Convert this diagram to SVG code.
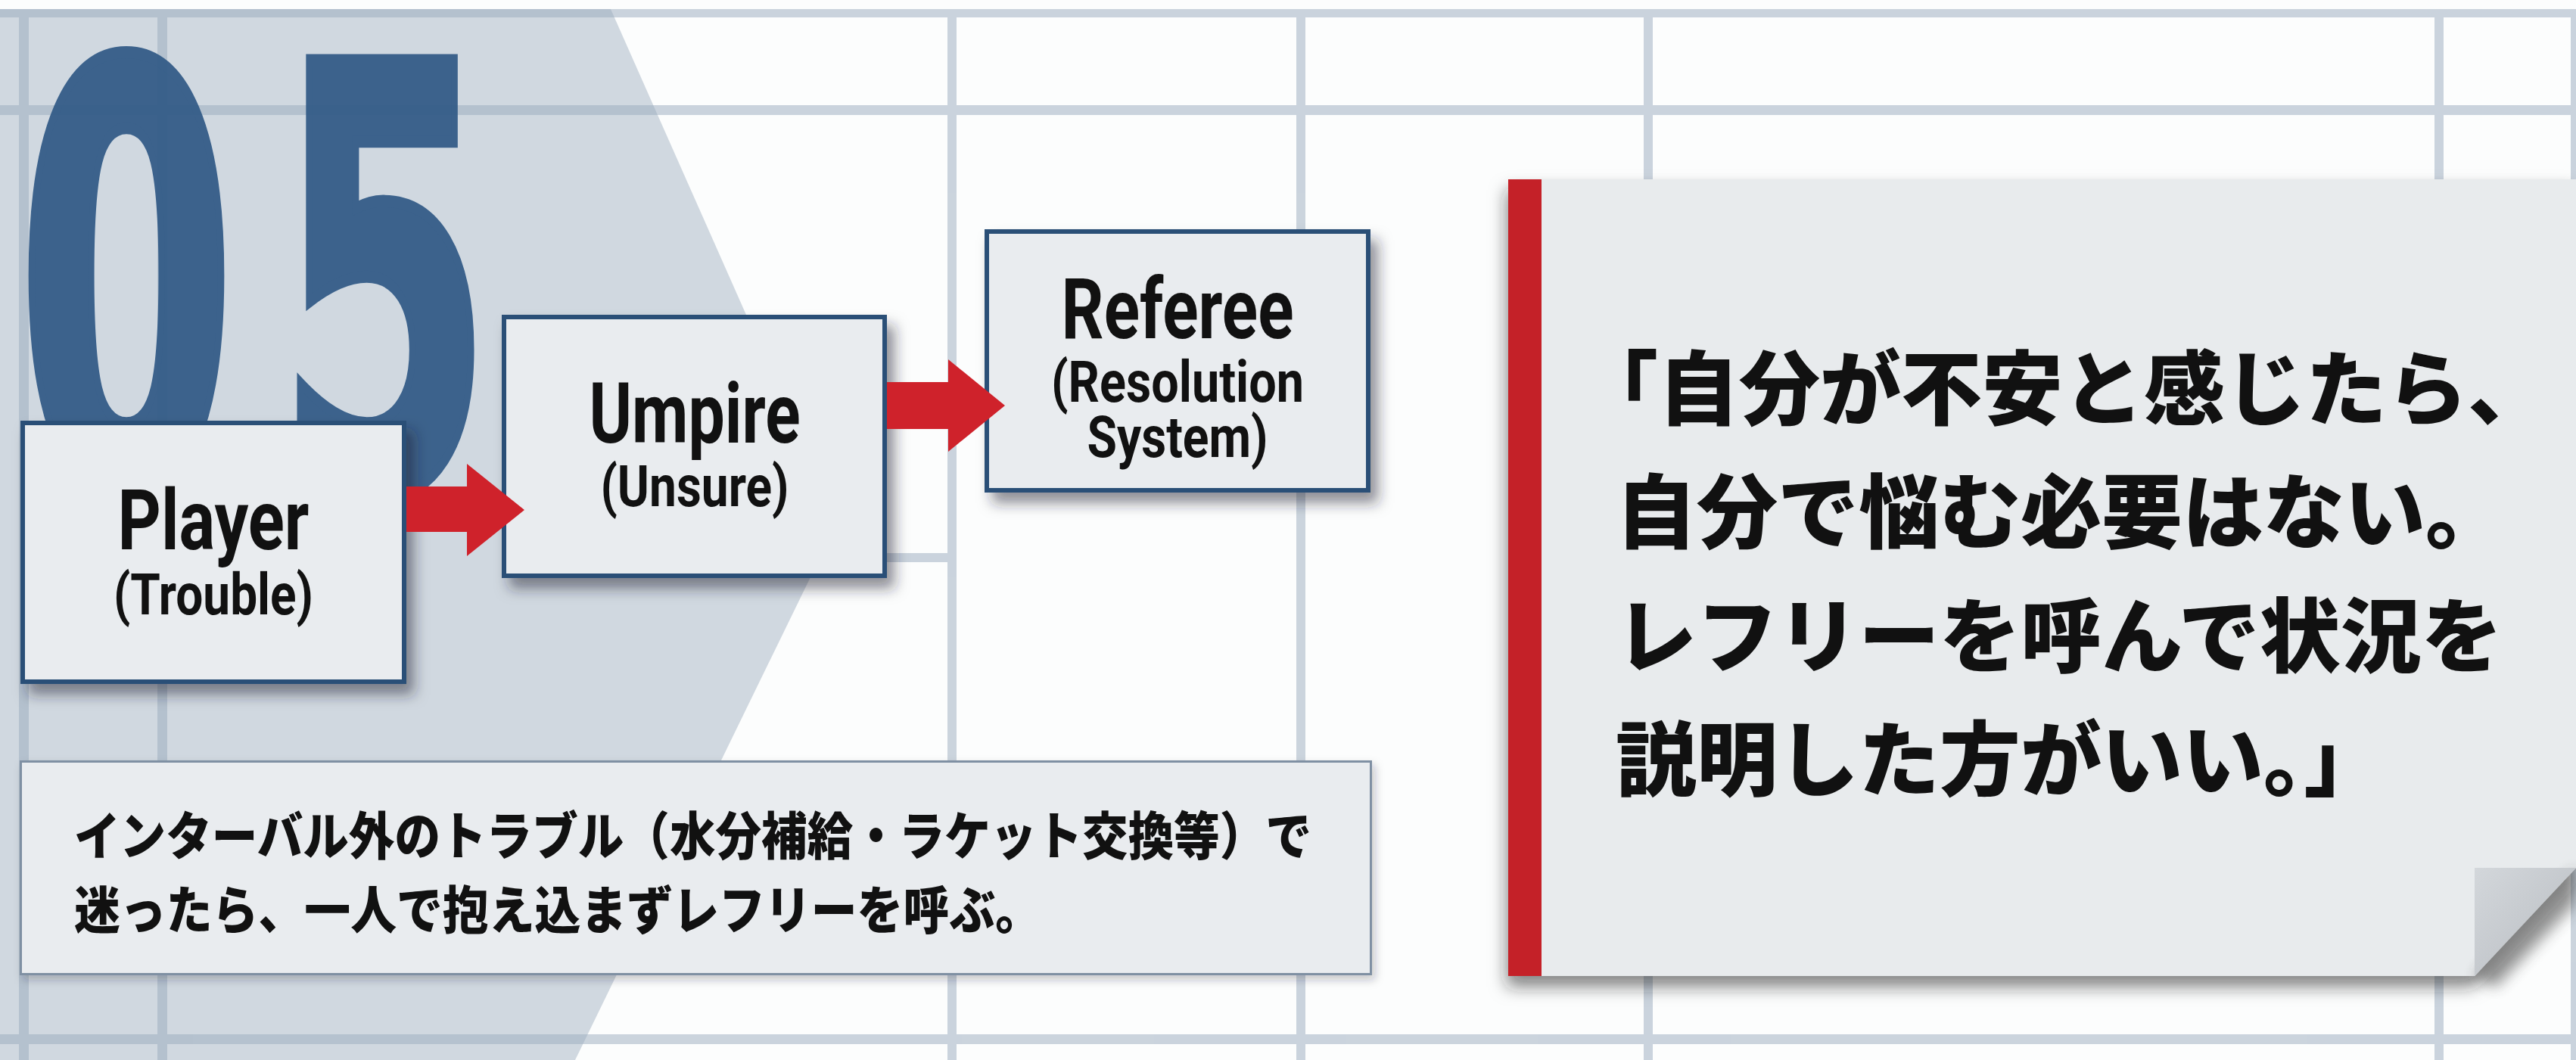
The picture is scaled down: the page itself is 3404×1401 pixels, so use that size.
<svg xmlns="http://www.w3.org/2000/svg" width="3404" height="1401" viewBox="0 0 3404 1401">
<defs>
<style>
.box{fill:#e9ecef;stroke:#2c4f77;stroke-width:6}
.lbl{font-family:Roboto,"Liberation Sans",sans-serif;font-weight:700;fill:#111;text-anchor:middle}
.main{font-size:112px}
.sub{font-size:76px}
.jp{font-family:"Noto Sans CJK JP","Noto Sans CJK SC",sans-serif;font-weight:900;fill:#111}
.arrow{fill:#cf222b}
.num{font-family:"DejaVu Sans",sans-serif;font-weight:700;font-size:780px;fill:#365e89;stroke:#365e89;stroke-width:16}
</style>
<filter id="shBox" x="-20%" y="-20%" width="150%" height="150%">
<feDropShadow dx="10" dy="14" stdDeviation="9" flood-color="#1a2430" flood-opacity="0.5"/>
</filter>
<filter id="shNote" x="-10%" y="-20%" width="120%" height="150%">
<feDropShadow dx="4" dy="6" stdDeviation="6" flood-color="#1a2430" flood-opacity="0.25"/>
</filter>
<filter id="shCard" x="-10%" y="-10%" width="120%" height="130%">
<feDropShadow dx="-2" dy="14" stdDeviation="11" flood-color="#222" flood-opacity="0.55"/>
</filter>
<filter id="blur8" x="-50%" y="-50%" width="200%" height="200%"><feGaussianBlur stdDeviation="9"/></filter>
<linearGradient id="foldG" x1="0" y1="0" x2="1" y2="1">
<stop offset="0" stop-color="#d3d7db"/>
<stop offset="1" stop-color="#b8bcc1"/>
</linearGradient>
</defs>

<g id="background">
<rect width="3404" height="1401" fill="#fcfdfd"/>
<polygon points="0,12 807,12 1107,689 760,1401 0,1401" fill="#d0d8e0"/>
<g id="grid" opacity="0.5" fill="#9aabbe">
<rect x="0" y="12" width="3404" height="11"/>
<rect x="0" y="139" width="3404" height="13"/>
<rect x="1100" y="731" width="158" height="12"/>
<rect x="0" y="1367" width="3404" height="13"/>
<rect x="25" y="12" width="13" height="1389"/>
<rect x="208" y="12" width="13" height="1389"/>
<rect x="1252" y="12" width="12" height="1389"/>
<rect x="1713" y="12" width="12" height="1389"/>
<rect x="2172" y="12" width="12" height="1389"/>
<rect x="3217" y="12" width="12" height="1389"/>
<rect x="3397" y="12" width="7" height="1389"/>
</g>
<g id="number" opacity="0.96">
<text class="num" x="22" y="648" textLength="290" lengthAdjust="spacingAndGlyphs">0</text>
<text class="num" x="365" y="648" textLength="286" lengthAdjust="spacingAndGlyphs">5</text>
</g>
</g>

<g id="node-player">
<rect class="box" x="30" y="559" width="504" height="342" filter="url(#shBox)"/>
<text class="lbl main" x="282" y="726" textLength="253" lengthAdjust="spacingAndGlyphs">Player</text>
<text class="lbl sub" x="282" y="812" textLength="264" lengthAdjust="spacingAndGlyphs">(Trouble)</text>
</g>

<g id="node-umpire">
<rect class="box" x="666" y="419" width="503" height="342" filter="url(#shBox)"/>
<text class="lbl main" x="918" y="585" textLength="279" lengthAdjust="spacingAndGlyphs">Umpire</text>
<text class="lbl sub" x="918" y="669" textLength="249" lengthAdjust="spacingAndGlyphs">(Unsure)</text>
</g>

<g id="node-referee">
<rect class="box" x="1304" y="306" width="504" height="342" filter="url(#shBox)"/>
<text class="lbl main" x="1556" y="447" textLength="307" lengthAdjust="spacingAndGlyphs">Referee</text>
<text class="lbl sub" x="1556" y="531" textLength="334" lengthAdjust="spacingAndGlyphs">(Resolution</text>
<text class="lbl sub" x="1556" y="604" textLength="239" lengthAdjust="spacingAndGlyphs">System)</text>
</g>

<g id="connectors">
<polygon class="arrow" points="537,643 617,643 617,613 693,674 617,735 617,703 537,703"/>
<polygon class="arrow" points="1172,505 1253,505 1253,475 1328,536 1253,597 1253,567 1172,567"/>
</g>

<g id="node-note">
<rect x="27.5" y="1006.5" width="1784" height="281" fill="#e9ecef" stroke="#7f90a3" stroke-width="3" filter="url(#shNote)"/>
<text class="jp" x="98" y="1130" font-size="68" textLength="1635" lengthAdjust="spacingAndGlyphs">インターバル外のトラブル（水分補給・ラケット交換等）で</text>
<text class="jp" x="98" y="1228" font-size="68" textLength="1278" lengthAdjust="spacingAndGlyphs">迷ったら、一人で抱え込まずレフリーを呼ぶ。</text>
</g>

<g id="node-quote">
<polygon points="1993,237 3404,237 3404,1147 3270,1290 1993,1290" fill="#e8ebed" filter="url(#shCard)"/>
<rect x="1993" y="237" width="44" height="1053" fill="#c42128"/>
<polygon points="3270,1290 3404,1147 3404,1195 3298,1306" fill="#333" opacity="0.45" filter="url(#blur8)"/>
<polygon points="3270,1147 3404,1147 3270,1290" fill="url(#foldG)"/>
<text class="jp" x="2084" y="553" font-size="107">「自分が不安と感じたら、</text>
<text class="jp" x="2135" y="716" font-size="107">自分で悩む必要はない。</text>
<text class="jp" x="2135" y="880" font-size="107">レフリーを呼んで状況を</text>
<text class="jp" x="2135" y="1043" font-size="107">説明した方がいい。」</text>
</g>
</svg>
